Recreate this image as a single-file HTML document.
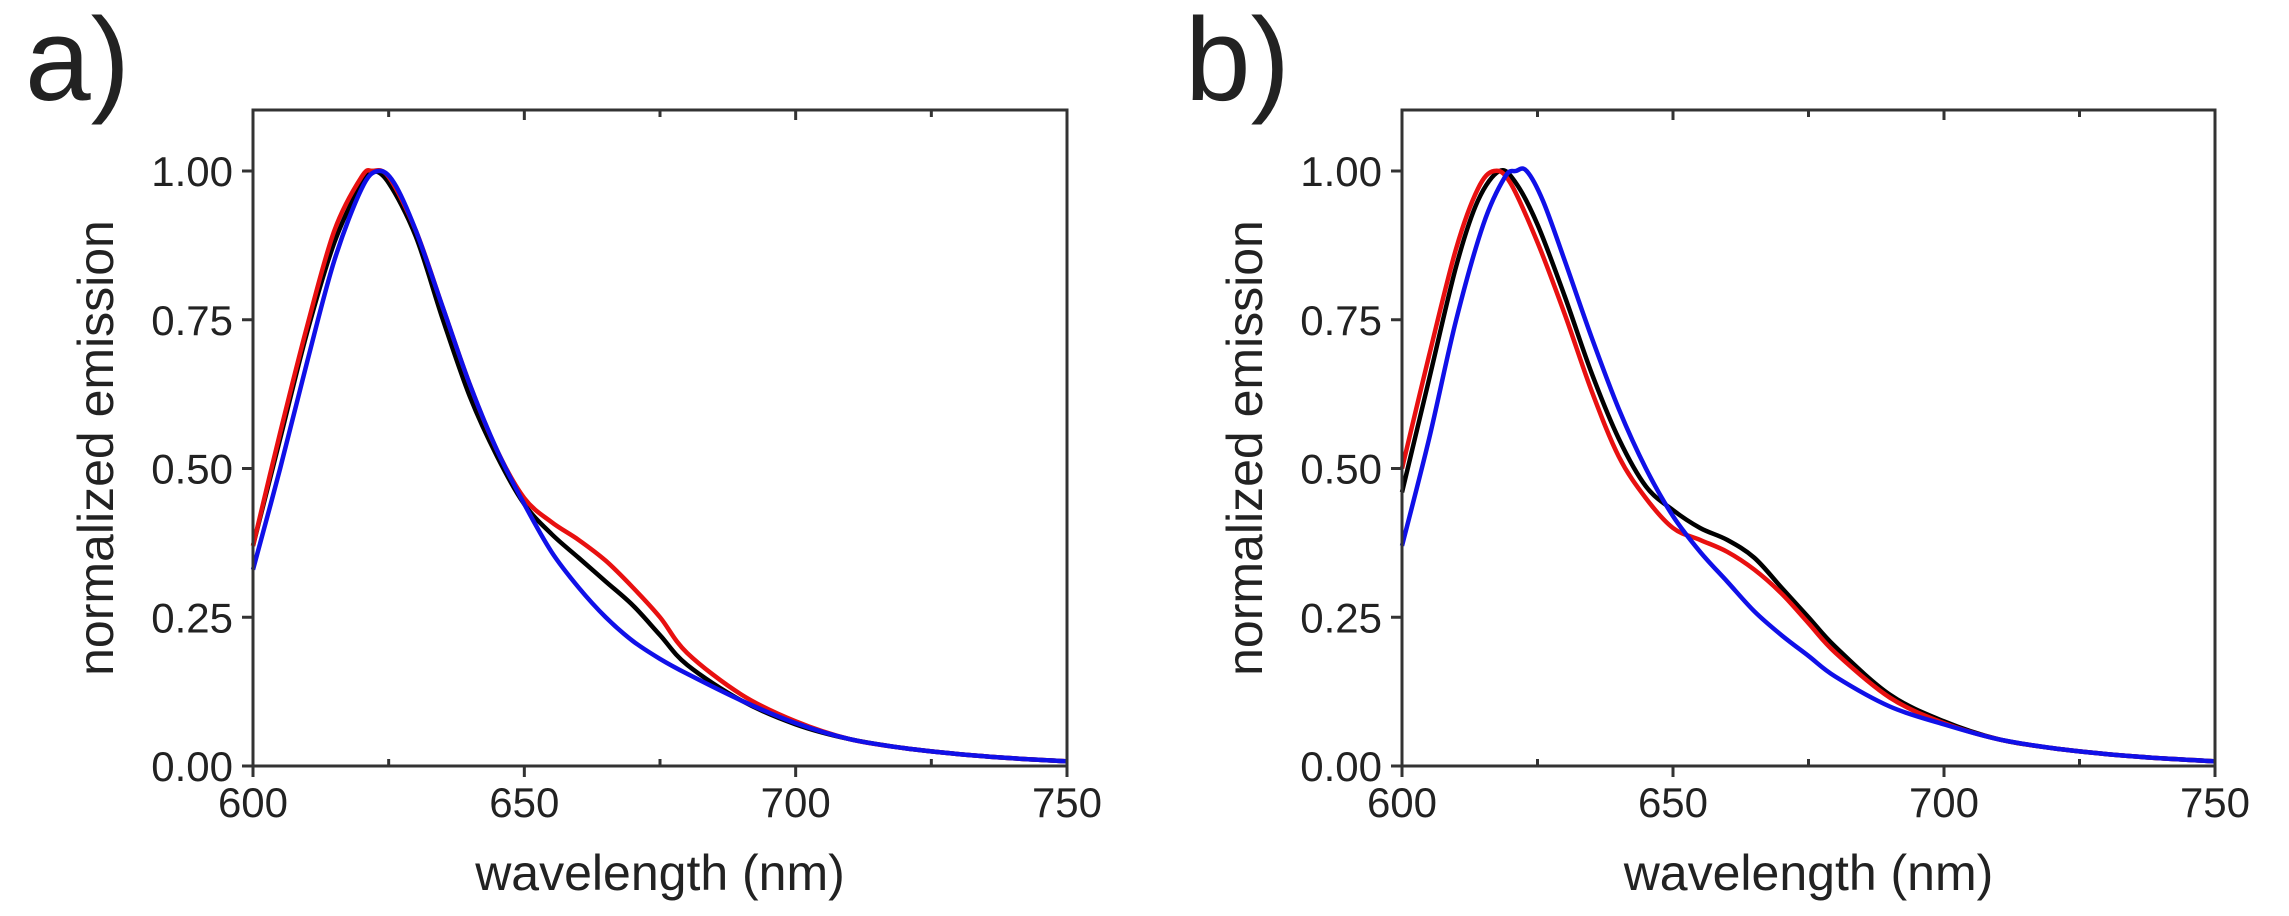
<!DOCTYPE html><html><head><style>body{margin:0;background:#fff}svg{display:block}text{font-family:"Liberation Sans",sans-serif;fill:#222}</style></head><body>
<svg id="s" width="2289" height="916" xmlns="http://www.w3.org/2000/svg">
<text x="25" y="100" font-size="118">a)</text>
<text x="1185" y="100" font-size="118">b)</text>
</svg>
<script>
const s=document.getElementById('s');const NS='http://www.w3.org/2000/svg';
function el(t,a,txt){const e=document.createElementNS(NS,t);for(const k in a)e.setAttribute(k,a[k]);if(txt!==undefined)e.textContent=txt;s.appendChild(e);return e;}
const T=110,B=766,Y1=171;
function panel(L,R,curves){
 const X=w=>L+(w-600)/150*(R-L), Y=v=>B-(B-Y1)*v;
 curves.forEach(([c,pts])=>{
  const P=pts.map(p=>[X(p[0]),Y(p[1])]);let d='M'+P[0][0]+','+P[0][1];
  for(let i=0;i<P.length-1;i++){const p0=P[Math.max(0,i-1)],p1=P[i],p2=P[i+1],p3=P[Math.min(P.length-1,i+2)];
   d+=` C${p1[0]+(p2[0]-p0[0])/6},${p1[1]+(p2[1]-p0[1])/6} ${p2[0]-(p3[0]-p1[0])/6},${p2[1]-(p3[1]-p1[1])/6} ${p2[0]},${p2[1]}`;}
  el('path',{d,fill:'none',stroke:c,'stroke-width':4.5,'stroke-linejoin':'round'});
 });
 el('rect',{x:L,y:T,width:R-L,height:B-T,fill:'none',stroke:'#333','stroke-width':3});
 [600,650,700,750].forEach(w=>{el('line',{x1:X(w),x2:X(w),y1:B,y2:B+11,stroke:'#333','stroke-width':3});
  el('text',{x:X(w),y:817,'font-size':42,'text-anchor':'middle'},w);});
 [625,675,725].forEach(w=>{el('line',{x1:X(w),x2:X(w),y1:B,y2:B-7,stroke:'#333','stroke-width':3});el('line',{x1:X(w),x2:X(w),y1:T,y2:T+7,stroke:'#333','stroke-width':3});});
 [650,700].forEach(w=>el('line',{x1:X(w),x2:X(w),y1:T,y2:T+10,stroke:'#333','stroke-width':3}));
 [0,0.25,0.5,0.75,1].forEach(v=>{el('line',{x1:L-11,x2:L,y1:Y(v),y2:Y(v),stroke:'#333','stroke-width':3});
  el('text',{x:L-20,y:Y(v)+15,'font-size':42,'text-anchor':'end'},v.toFixed(2));});
 el('text',{x:(L+R)/2,y:890,'font-size':50,'text-anchor':'middle'},'wavelength (nm)');
 el('text',{x:0,y:0,'font-size':50,'text-anchor':'middle',transform:`translate(${L-140},${(T+B)/2+10}) rotate(-90)`},'normalized emission');
}
const tail=[[710,0.045],[720,0.03],[730,0.02],[740,0.013],[750,0.008]];
panel(253,1067,[
['#000',[[600,0.37],[605,0.55],[610,0.73],[615,0.88],[620,0.98],[622,1],[625,0.98],[630,0.89],[635,0.75],[640,0.62],[645,0.52],[650,0.44],[655,0.39],[660,0.35],[665,0.31],[670,0.27],[675,0.22],[680,0.17],[690,0.11],[700,0.07],...tail]],
['#e81010',[[600,0.37],[605,0.56],[610,0.74],[615,0.9],[620,0.99],[622,1],[625,0.99],[630,0.9],[635,0.77],[640,0.64],[645,0.53],[650,0.45],[655,0.41],[660,0.38],[665,0.345],[670,0.3],[675,0.25],[680,0.19],[690,0.12],[700,0.075],...tail]],
['#1010e8',[[600,0.33],[605,0.5],[610,0.68],[615,0.85],[620,0.97],[623,1],[626,0.98],[630,0.9],[635,0.77],[640,0.64],[645,0.53],[650,0.44],[655,0.36],[660,0.3],[665,0.25],[670,0.21],[675,0.18],[680,0.155],[690,0.11],[700,0.072],...tail]]
]);
panel(1402,2215,[
['#000',[[600,0.46],[605,0.65],[610,0.84],[614,0.95],[618,1],[621,0.98],[625,0.91],[630,0.79],[635,0.66],[640,0.55],[645,0.47],[650,0.43],[655,0.4],[660,0.38],[665,0.35],[670,0.3],[675,0.25],[680,0.2],[690,0.12],[700,0.075],...tail]],
['#e81010',[[600,0.5],[605,0.69],[610,0.87],[614,0.97],[617,1],[620,0.98],[625,0.88],[630,0.76],[635,0.63],[640,0.52],[645,0.45],[650,0.4],[655,0.38],[660,0.36],[665,0.33],[670,0.29],[675,0.24],[680,0.19],[690,0.115],[700,0.072],...tail]],
['#1010e8',[[600,0.37],[605,0.55],[610,0.75],[615,0.91],[619,0.99],[621,1],[623,1],[626,0.95],[630,0.85],[635,0.72],[640,0.6],[645,0.5],[650,0.42],[655,0.36],[660,0.31],[665,0.26],[670,0.22],[675,0.185],[680,0.15],[690,0.1],[700,0.07],...tail]]
]);
</script></body></html>
